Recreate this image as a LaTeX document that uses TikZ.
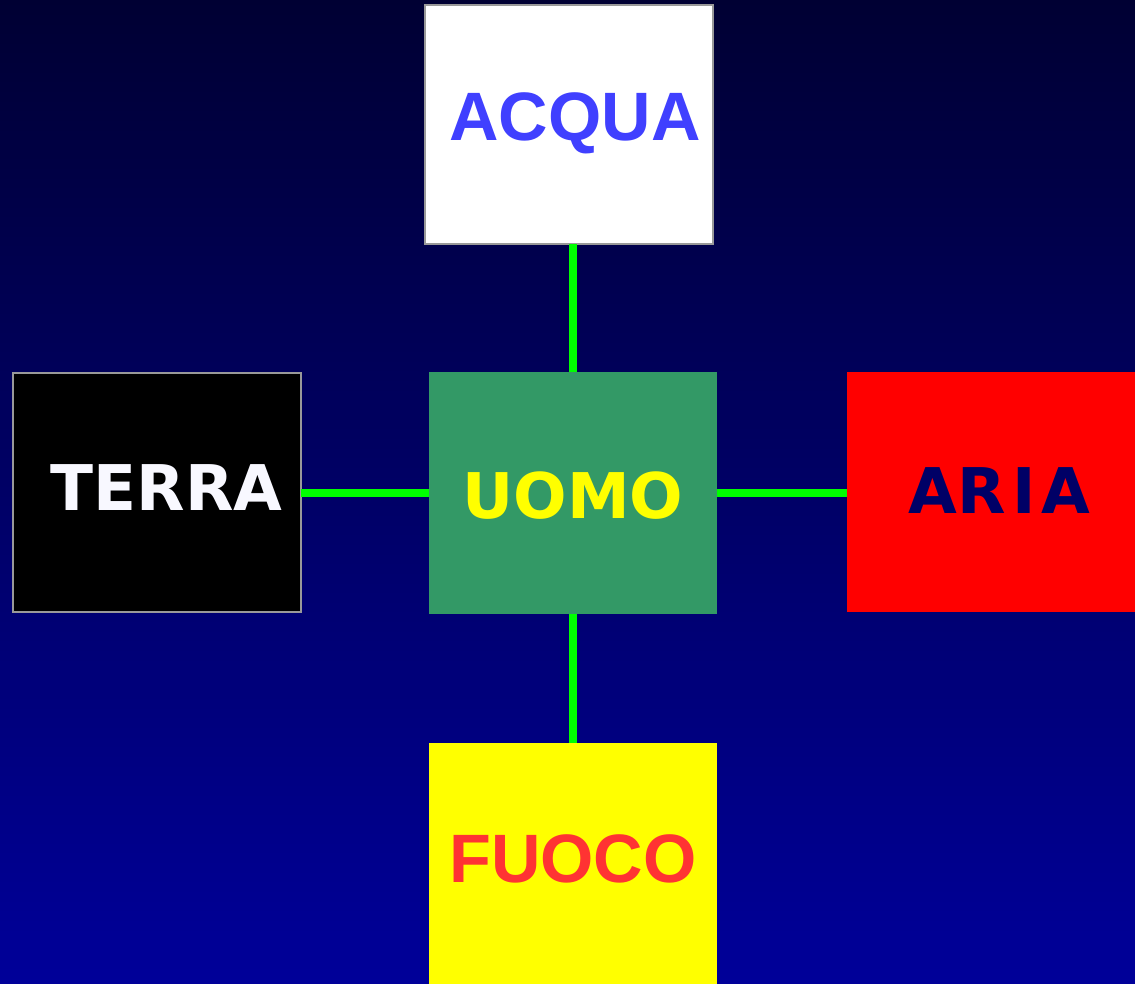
\documentclass[tikz,border=0pt]{standalone}
\usepackage{fontspec}
\newfontfamily\libsans{Liberation Sans}
\newfontfamily\dvsans{DejaVu Sans}
\definecolor{bgtop}{HTML}{000033}
\definecolor{bgbot}{HTML}{000099}
\definecolor{acquablue}{HTML}{4040FF}
\definecolor{arianavy}{HTML}{000066}
\definecolor{uomogreen}{HTML}{339966}
\definecolor{fuocored}{HTML}{FF3333}
\definecolor{linkgreen}{HTML}{00FF00}
\definecolor{edgegray}{HTML}{999999}
\definecolor{pureyellow}{HTML}{FFFF00}
\definecolor{purered}{HTML}{FF0000}
\definecolor{terrawhite}{HTML}{F8F8FF}
\tikzset{
  box/.style={rectangle, inner sep=0pt, outer sep=0pt, minimum width=288pt},
  lbl/.style={anchor=base, inner sep=0pt},
  bigL/.style={font=\libsans\bfseries\fontsize{68.5}{80}\selectfont},
  bigD/.style={font=\dvsans\bfseries\fontsize{63}{76}\selectfont},
  conn/.style={draw=linkgreen, line width=8pt}
}
\begin{document}
\begin{tikzpicture}[x=1pt, y=-1pt]
\shade[top color=bgtop, bottom color=bgbot] (0,0) rectangle (1135,983);
\useasboundingbox (0,0) rectangle (1135,983);
% boxes
\node[box, fill=white, draw=edgegray, line width=2pt, minimum height=239pt] (acqua) at (569,124.5) {};
\node[box, fill=black, draw=edgegray, line width=2pt, minimum height=239pt] (terra) at (157,492.5) {};
\node[box, fill=uomogreen, minimum height=242pt] (uomo) at (573.3,492.8) {};
\node[box, fill=purered, minimum height=240pt] (aria) at (991,492) {};
\node[box, fill=pureyellow, minimum height=241pt] (fuoco) at (573,863.5) {};
% labels
\node[lbl, bigL, text=acquablue] (acquaT) at (575,140) {ACQUA};
\node[lbl, bigD, text=terrawhite] (terraT) at (166.5,510) {TERRA};
\node[lbl, bigD, text=pureyellow] (uomoT) at (573,518) {UOMO};
\node[lbl, bigD, text=arianavy] (ariaT) at (999.5,513) {AR\kern6pt I\kern6pt A};
\node[lbl, bigL, text=fuocored] (fuocoT) at (573,882) {FUOCO};
% connectors
\draw[conn] (uomo.north |- acqua.south) -- (uomo.north);
\draw[conn] (uomo.south) -- (uomo.south |- fuoco.north);
\draw[conn] (terra.east |- uomo.west) -- (uomo.west);
\draw[conn] (uomo.east) -- (aria.west |- uomo.east);
\end{tikzpicture}
\end{document}
